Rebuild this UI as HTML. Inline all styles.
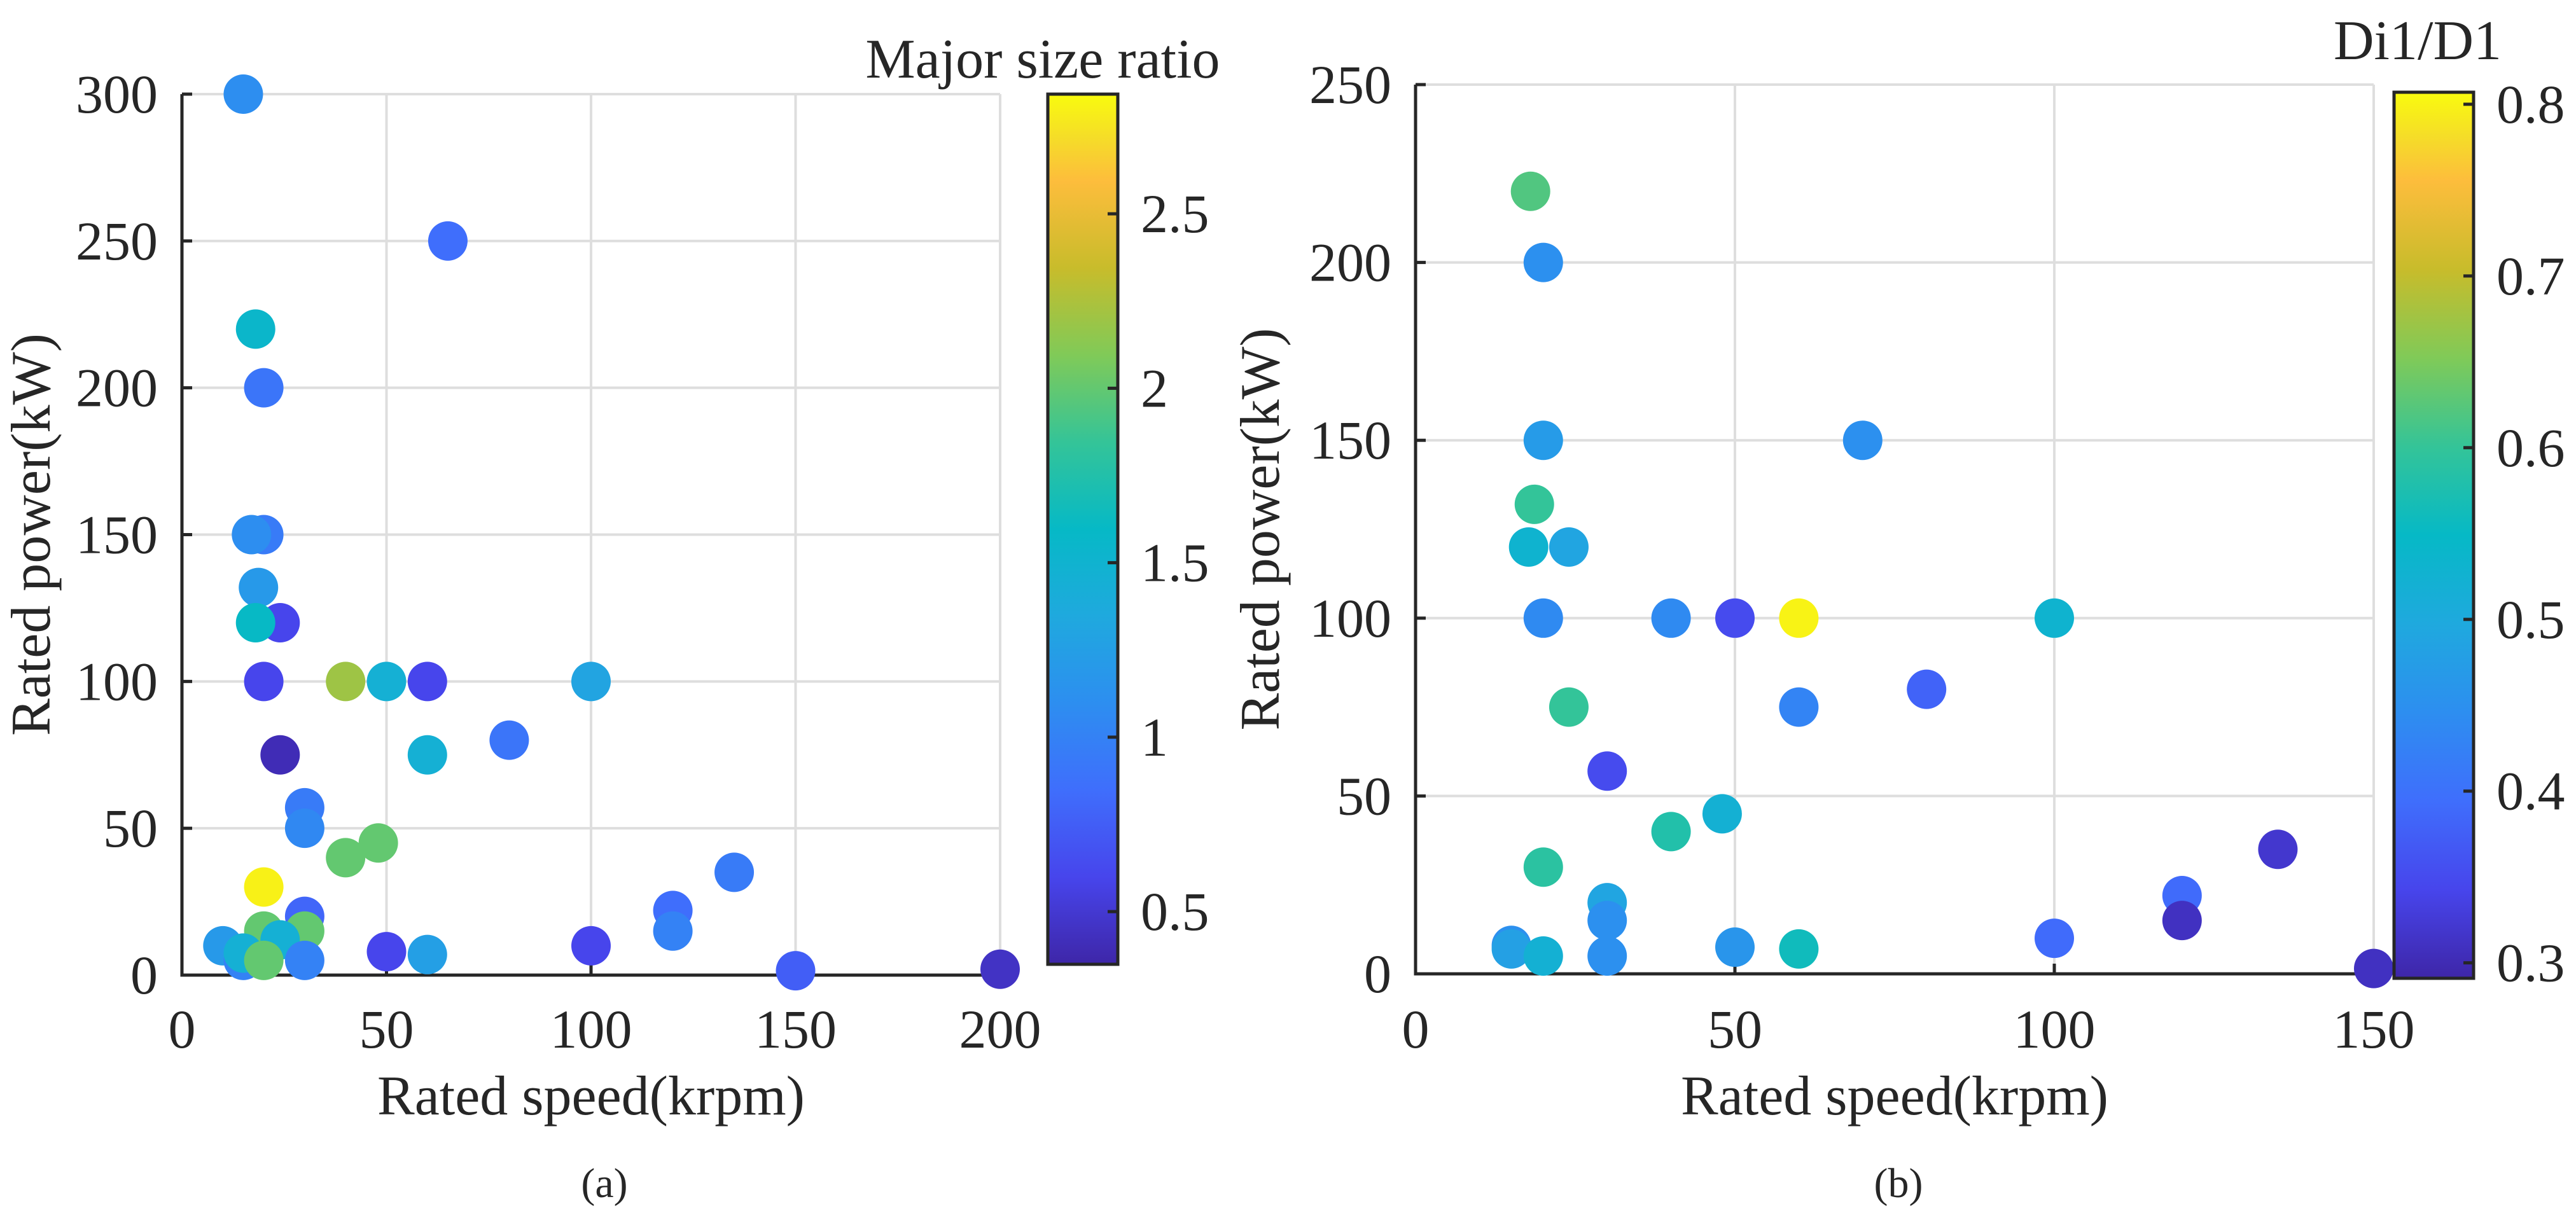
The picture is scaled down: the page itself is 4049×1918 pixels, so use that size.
<!DOCTYPE html>
<html><head><meta charset="utf-8"><style>
html,body{margin:0;padding:0;background:#fff;}
svg{display:block;}
svg text{font-family:"Liberation Serif","DejaVu Serif",serif !important;fill:#262626;}
</style></head><body>
<svg id="fig" width="4049" height="1918" viewBox="0 0 4049 1918" xmlns="http://www.w3.org/2000/svg" font-family="Liberation Serif, DejaVu Serif, serif">
<defs>
<linearGradient id="parula" x1="0" y1="1" x2="0" y2="0">
<stop offset="0" stop-color="rgb(62,38,168)"/><stop offset="0.1" stop-color="rgb(71,69,236)"/>
<stop offset="0.2" stop-color="rgb(63,110,252)"/><stop offset="0.3" stop-color="rgb(45,142,240)"/>
<stop offset="0.4" stop-color="rgb(31,169,222)"/><stop offset="0.5" stop-color="rgb(6,185,198)"/>
<stop offset="0.6" stop-color="rgb(52,196,152)"/><stop offset="0.7" stop-color="rgb(128,202,88)"/>
<stop offset="0.8" stop-color="rgb(200,188,43)"/><stop offset="0.9" stop-color="rgb(253,189,60)"/>
<stop offset="0.95" stop-color="rgb(245,221,40)"/><stop offset="1" stop-color="rgb(249,251,14)"/>
</linearGradient>
</defs>
</svg>
<script>
// Panel (a) data
const aSpeed = [15,65,18,20,20,17,18.7,24,18,20,40,50,60,100,80,24,60,30,30,40,48,20,30,30,20,10,15,24,15,20,30,50,60,100,120,120,135,150,200];
const aPower = [300,250,220,200,150,150,132,120,120,100,100,100,100,100,80,75,75,57,50,40,45,30,20,15,15,10,5,12,7.5,5,5,8,7,10,22,15,35,1.5,2];
const aRatio = [1.1,0.85,1.55,0.9,0.95,1.1,1.2,0.6,1.6,0.6,2.2,1.45,0.6,1.3,0.9,0.4,1.45,0.95,1.05,2.0,2.0,2.8,0.8,2.0,2.0,1.2,1.0,1.45,1.45,2.0,1.0,0.6,1.25,0.6,0.85,1.0,0.95,0.75,0.45];
const aXTicks = [0,50,100,150,200];
const aYTicks = [0,50,100,150,200,250,300];
const aCTicks = [0.5,1,1.5,2,2.5];
// Panel (b) data
const bSpeed = [18,20,20,18.6,17.7,24,20,40,50,60,100,70,80,60,24,30,48,40,20,30,30,30,15,15,20,50,60,100,120,120,135,150];
const bPower = [220,200,150,132,120,120,100,100,100,100,100,150,80,75,75,57,45,40,30,20,15,5,8,7,5,7.5,7,10,22,15,35,1.5];
const bRatio = [0.62,0.45,0.47,0.6,0.53,0.49,0.44,0.44,0.35,0.8,0.53,0.45,0.38,0.43,0.6,0.35,0.52,0.58,0.59,0.49,0.45,0.45,0.45,0.48,0.52,0.46,0.56,0.39,0.39,0.31,0.32,0.31];
const bXTicks = [0,50,100,150];
const bYTicks = [0,50,100,150,200,250];
const bCTicks = [0.3,0.4,0.5,0.6,0.7,0.8];

const NS = "http://www.w3.org/2000/svg";
const svg = document.getElementById('fig');
const stops = [[0,62,38,168],[0.1,71,69,236],[0.2,63,110,252],[0.3,45,142,240],[0.4,31,169,222],[0.5,6,185,198],[0.6,52,196,152],[0.7,128,202,88],[0.8,200,188,43],[0.9,253,189,60],[0.95,245,221,40],[1,249,251,14]];
function parula(t){t=Math.max(0,Math.min(1,t));for(let i=1;i<stops.length;i++){if(t<=stops[i][0]){const a=stops[i-1],b=stops[i];const f=(t-a[0])/(b[0]-a[0]);return 'rgb('+[1,2,3].map(k=>Math.round(a[k]+(b[k]-a[k])*f)).join(',')+')';}}return 'rgb(249,251,14)';}
function el(tag,attrs,parent){const e=document.createElementNS(NS,tag);for(const k in attrs)e.setAttribute(k,attrs[k]);(parent||svg).appendChild(e);return e;}
function txt(s,attrs){attrs['font-family']='Liberation Serif, DejaVu Serif, serif';const t=el('text',attrs);t.textContent=s;return t;}

function panel(cfg){
  const g=el('g',{});
  
  
  const X=v=>cfg.x0+(v-cfg.xmin)/(cfg.xmax-cfg.xmin)*(cfg.x1-cfg.x0);
  const Y=v=>cfg.y0-(v-cfg.ymin)/(cfg.ymax-cfg.ymin)*(cfg.y0-cfg.y1);
  cfg.xt.forEach(v=>{if(v===cfg.xmin)return;const l=el('line',{x1:X(v),x2:X(v),y1:cfg.y0,y2:cfg.y1,stroke:'#dedede','stroke-width':4},g);
    
    });
  cfg.yt.forEach(v=>{if(v===cfg.ymin)return;const l=el('line',{x1:cfg.x0,x2:cfg.x1,y1:Y(v),y2:Y(v),stroke:'#dedede','stroke-width':4},g);
    
    });
  const ax=el('path',{d:`M${cfg.x0},${cfg.y1} L${cfg.x0},${cfg.y0} L${cfg.x1},${cfg.y0}`,fill:'none',stroke:'#262626','stroke-width':5},g);
  
  
  cfg.xt.forEach(v=>{el('line',{x1:X(v),x2:X(v),y1:cfg.y0,y2:cfg.y0-16,stroke:'#262626','stroke-width':5},g);
    const t=txt(String(v),{x:X(v),y:1647,'font-size':86,'text-anchor':'middle'});
    
    });
  cfg.yt.forEach(v=>{el('line',{x1:cfg.x0,x2:cfg.x0+16,y1:Y(v),y2:Y(v),stroke:'#262626','stroke-width':5},g);
    const t=txt(String(v),{x:cfg.x0-38,y:Y(v)+29,'font-size':86,'text-anchor':'end'});
    
    });
  for(let i=0;i<cfg.xs.length;i++){
    const c=el('circle',{cx:X(cfg.xs[i]),cy:Y(cfg.ys[i]),r:31,fill:parula((cfg.cs[i]-cfg.cmin)/(cfg.cmax-cfg.cmin))},g);
    
    
  }
  let t=txt('Rated speed(krpm)',{x:(cfg.x0+cfg.x1)/2,y:1752,'font-size':88,'text-anchor':'middle'});
  
  
  t=txt('Rated power(kW)',{x:0,y:0,'font-size':88,'text-anchor':'middle',transform:`translate(${cfg.ylabX},${(cfg.y0+cfg.y1)/2}) rotate(-90)`});
  
  
  t=txt(cfg.sub,{x:cfg.subX,y:1882,'font-size':66,'text-anchor':'middle'});
  
  
  const cb=el('rect',{x:cfg.cbx0,y:cfg.cby1,width:cfg.cbx1-cfg.cbx0,height:cfg.cby0-cfg.cby1,fill:'url(#parula)',stroke:'#262626','stroke-width':5},g);
  
  
  const CY=v=>cfg.cby0-(v-cfg.cmin)/(cfg.cmax-cfg.cmin)*(cfg.cby0-cfg.cby1);
  cfg.ct.forEach(v=>{el('line',{x1:cfg.cbx1-16,x2:cfg.cbx1,y1:CY(v),y2:CY(v),stroke:'#262626','stroke-width':5},g);
    const tt=txt(String(v),{x:cfg.cbx1+36,y:CY(v)+29,'font-size':86});
    
    });
  t=txt(cfg.ctitle,{x:cfg.ctx,y:cfg.cty,'font-size':88,'text-anchor':'middle'});
  
  
}

panel({name:'panel-a',xs:aSpeed,ys:aPower,cs:aRatio,xt:aXTicks,yt:aYTicks,ct:aCTicks,
  xmin:0,xmax:200,ymin:0,ymax:300,x0:286,x1:1572,y0:1533,y1:148,
  cmin:0.349,cmax:2.843,cbx0:1647,cbx1:1757,cby0:1516,cby1:148,
  ylabX:78,sub:'(a)',subX:950,ctitle:'Major size ratio',ctx:1639,cty:122});
panel({name:'panel-b',xs:bSpeed,ys:bPower,cs:bRatio,xt:bXTicks,yt:bYTicks,ct:bCTicks,
  xmin:0,xmax:150,ymin:0,ymax:250,x0:2225,x1:3731,y0:1531,y1:133,
  cmin:0.291,cmax:0.807,cbx0:3763,cbx1:3888,cby0:1538,cby1:145,
  ylabX:2010,sub:'(b)',subX:2984,ctitle:'Di1/D1',ctx:3800,cty:93});
</script>
</body></html>
